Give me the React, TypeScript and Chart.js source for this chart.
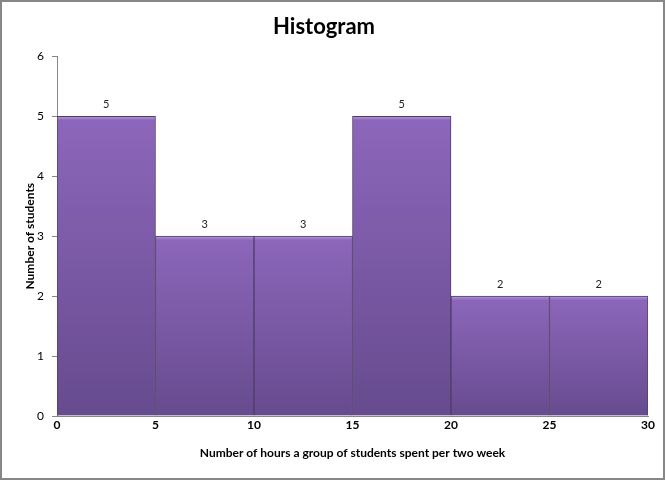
import React, { useEffect, useRef } from "react";
import { Chart, registerables } from "chart.js";

Chart.register(...registerables);

const binStarts = [0, 5, 10, 15, 20, 25];
const binWidth = 5;
const counts = [5, 3, 3, 5, 2, 2];
const xTicks = [0, 5, 10, 15, 20, 25, 30];
const yTicks = [0, 1, 2, 3, 4, 5, 6];
const titleText = "Histogram";
const xTitle = "Number of hours a group of students spent per two week";
const yTitle = "Number of students";

const FONT = "Lato, 'Open Sans', 'DejaVu Sans', sans-serif";

const frameAndLabels = {
  id: "frameAndLabels",
  afterDatasetsDraw(chart: any) {
    const ctx = chart.ctx;
    const meta = chart.getDatasetMeta(0);
    ctx.save();
    ctx.fillStyle = "#222222";
    ctx.font = `11px ${FONT}`;
    ctx.textAlign = "center";
    ctx.textBaseline = "bottom";
    meta.data.forEach((el: any, i: number) => {
      ctx.fillText(String(counts[i]), el.x, el.y - 6);
    });
    ctx.restore();
  },
  afterDraw(chart: any) {
    const ctx = chart.ctx;
    ctx.save();
    ctx.strokeStyle = "#878787";
    ctx.lineWidth = 2;
    ctx.strokeRect(1, 1, chart.width - 2, chart.height - 2);
    ctx.restore();
  },
};

export default function App() {
  const ref = useRef<HTMLCanvasElement | null>(null);
  useEffect(() => {
    document.body.style.margin = "0";
    const canvas = ref.current!;
    const chart = new Chart(canvas, {
      type: "bar",
      data: {
        datasets: [
          {
            data: binStarts.map((s, i) => ({ x: s + binWidth / 2, y: counts[i] })),
            barPercentage: 1,
            categoryPercentage: 1,
            borderWidth: 1,
            borderColor: "#4f3d68",
            backgroundColor: (c: any) => {
              const ch = c.chart;
              const ys = ch.scales && ch.scales.y;
              if (!ch.chartArea || !ys || c.parsed == null) return "#7a58a6";
              const top = ys.getPixelForValue(c.parsed.y);
              const bottom = ys.getPixelForValue(0);
              if (!isFinite(top) || !isFinite(bottom) || bottom - top < 2) return "#7a58a6";
              const g = ch.ctx.createLinearGradient(0, top, 0, bottom);
              const h = bottom - top;
              g.addColorStop(0, "#b29ad8");
              g.addColorStop(Math.min(0.5, 4 / h), "#8c66ba");
              g.addColorStop(1, "#664b8e");
              return g;
            },
          },
        ],
      },
      options: {
        animation: false,
        responsive: false,
        maintainAspectRatio: false,
        layout: { padding: { left: 0, right: 17, top: 0, bottom: 0 } },
        plugins: {
          legend: { display: false },
          tooltip: { enabled: false },
          title: {
            display: true,
            text: titleText,
            color: "#000000",
            font: { family: FONT, size: 22, weight: "bold" },
            padding: { top: 14, bottom: 16 },
          },
        },
        scales: {
          x: {
            type: "linear",
            min: 0,
            max: 30,
            offset: false,
            afterBuildTicks: (s: any) => {
              s.ticks = xTicks.map((v) => ({ value: v }));
            },
            afterFit: (s: any) => {
              s.height = 64;
            },
            ticks: {
              color: "#000000",
              font: { family: FONT, size: 12, weight: "bold" },
              padding: 2,
              maxRotation: 0,
              autoSkip: false,
            },
            grid: { display: false, drawTicks: false },
            border: { display: true, color: "#878787", width: 1 },
            title: {
              display: true,
              text: xTitle,
              color: "#000000",
              font: { family: FONT, size: 12, weight: "bold" },
              padding: { top: 0, bottom: 20 },
            },
          },
          y: {
            min: 0,
            max: 6,
            afterBuildTicks: (s: any) => {
              s.ticks = yTicks.map((v) => ({ value: v }));
            },
            afterFit: (s: any) => {
              s.width = 57;
            },
            ticks: {
              color: "#000000",
              font: { family: FONT, size: 12 },
              padding: 8,
            },
            grid: {
              display: true,
              drawOnChartArea: false,
              drawTicks: true,
              tickLength: 5,
              color: "#878787",
            },
            border: { display: true, color: "#878787", width: 1 },
            title: {
              display: true,
              text: yTitle,
              color: "#000000",
              font: { family: FONT, size: 12, weight: "bold" },
              padding: { top: 23, bottom: 0 },
            },
          },
        },
      },
      plugins: [frameAndLabels],
    } as any);
    return () => chart.destroy();
  }, []);
  return <canvas ref={ref} width={665} height={480} style={{ display: "block" }} />;
}
